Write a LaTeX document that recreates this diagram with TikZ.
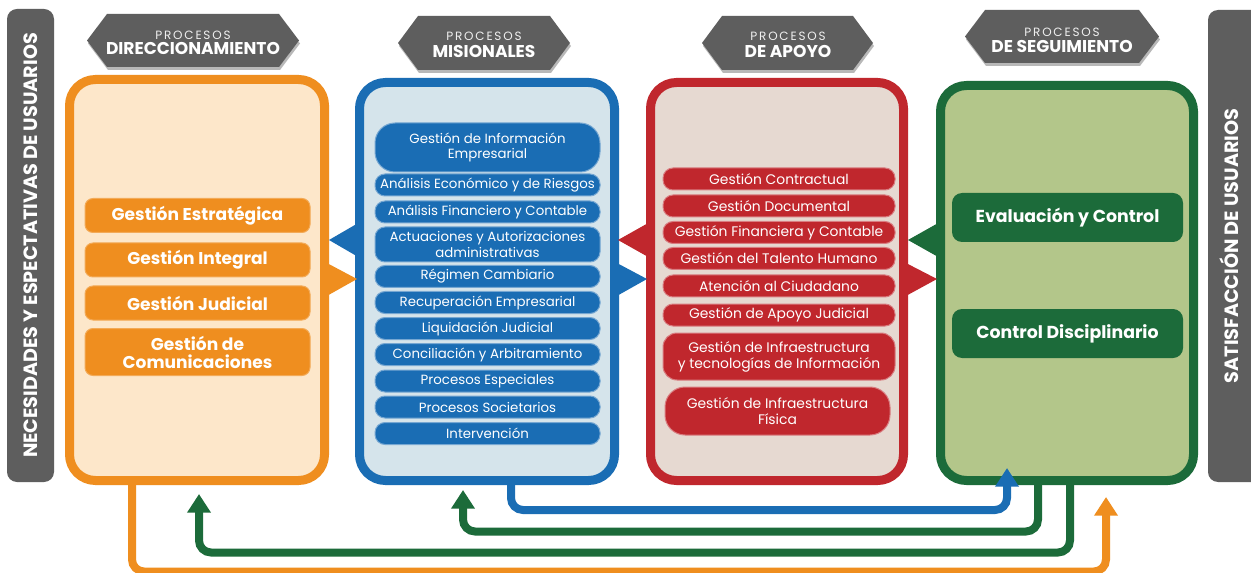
\documentclass[tikz,border=0pt]{standalone}
\usepackage{fontspec}
\setmainfont{Poppins}
\usetikzlibrary{arrows.meta}
\newdimen\px \px=0.75pt
\definecolor{cor}{HTML}{EF8E1F}
\definecolor{corl}{HTML}{FDE7CA}
\definecolor{cbl}{HTML}{1A6DB4}
\definecolor{cbll}{HTML}{D5E4EB}
\definecolor{cre}{HTML}{C0272D}
\definecolor{crel}{HTML}{E6D9D1}
\definecolor{cgr}{HTML}{1C6B3A}
\definecolor{cgrl}{HTML}{B3C68A}
\definecolor{cgray}{HTML}{5E5E5E}
\tikzset{
 colbox/.style={line width=9\px, rounded corners=26\px, inner sep=0pt},
 itm/.style={inner sep=0pt, align=center, text=white, line width=1\px},
 oitm/.style={itm, fill=cor, draw=cor!75!white, rounded corners=8\px, font=\bfseries\fontsize{12.8}{13.5}\selectfont, minimum width=225\px},
 bitm/.style={itm, fill=cbl, draw=cbl!60!white, rounded corners=10\px, font=\fontsize{10}{11.5}\selectfont, minimum width=225\px, minimum height=22\px},
 ritm/.style={itm, fill=cre, draw=cre!60!white, rounded corners=10\px, font=\fontsize{10.4}{12}\selectfont, minimum width=232\px, minimum height=22\px},
 gitm/.style={itm, fill=cgr, rounded corners=10\px, font=\bfseries\fontsize{13}{14}\selectfont, minimum width=231\px, minimum height=49\px},
 hsmall/.style={text=white!88!gray, font=\fontsize{9}{10}\selectfont\addfontfeature{LetterSpace=15}, inner sep=0pt},
 hbig/.style={text=white, font=\bfseries\fontsize{12.8}{14}\selectfont, inner sep=0pt},
 sidebar/.style={fill=cgray, rounded corners=10\px, inner sep=0pt},
 sidetext/.style={rotate=90, text=white, font=\bfseries\fontsize{14.4}{16}\selectfont, inner sep=0pt},
 conn/.style={line width=6pt, rounded corners=12\px, -{Triangle[width=17pt,length=14pt]}}
}
\newcommand\hexhdr[4]{%
 \fill[black,opacity=.28] ({#1+1},{(#3+#4)/2+3}) -- ({#1+21},{#3+3}) -- ({#2-19},{#3+3}) -- ({#2+1},{(#3+#4)/2+3}) -- ({#2-19},{#4+3}) -- ({#1+21},{#4+3}) -- cycle;
 \fill[cgray] (#1,{(#3+#4)/2}) -- ({#1+20},#3) -- ({#2-20},#3) -- (#2,{(#3+#4)/2}) -- ({#2-20},#4) -- ({#1+20},#4) -- cycle;}
\begin{document}
\begin{tikzpicture}[x=0.75pt,y=-0.75pt]
\useasboundingbox[fill=white] (0,0) rectangle (1251,573);

% side bars
\node[sidebar, minimum width=47\px, minimum height=473\px] (lb) at (30.5,245.5) {};
\node[sidetext] (lbt) at (lb) {NECESIDADES Y ESPECTATIVAS DE USUARIOS};
\node[sidebar, minimum width=54\px, minimum height=472\px] (rb) at (1235,246) {};
\node[sidetext] (rbt) at (1229,246) {SATISFACCIÓN DE USUARIOS};

% headers
\hexhdr{87}{299}{14}{67}
\node[hsmall] (h1a) at (193,35) {PROCESOS};
\node[hbig] (h1b) at (193,48.5) {DIRECCIONAMIENTO};
\hexhdr{398}{570}{16}{70}
\node[hsmall] (h2a) at (484,36) {PROCESOS};
\node[hbig] (h2b) at (484,51) {MISIONALES};
\hexhdr{702}{873}{16}{70}
\node[hsmall] (h3a) at (788,36) {PROCESOS};
\node[hbig] (h3b) at (788,51) {DE APOYO};
\hexhdr{965}{1159}{10}{63}
\node[hsmall] (h4a) at (1062,32) {PROCESOS};
\node[hbig] (h4b) at (1062,46.5) {DE SEGUIMIENTO};

% columns
\node[colbox, draw=cor, fill=corl, minimum width=255\px, minimum height=401\px] (colO) at (197,280) {};
\node[colbox, draw=cbl, fill=cbll, minimum width=255\px, minimum height=398\px] (colB) at (487,281.5) {};
\node[colbox, draw=cre, fill=crel, minimum width=253\px, minimum height=398\px] (colR) at (777,281.5) {};
\node[colbox, draw=cgr, fill=cgrl, minimum width=253\px, minimum height=395\px] (colG) at (1067,283) {};

% arrow wedges between columns
\fill[cbl] (360,222) -- (360,258) -- (329,240) -- cycle;
\fill[cor] (325,262) -- (325,297) -- (357,279) -- cycle;
\fill[cre] (650,222) -- (650,258) -- (618,240) -- cycle;
\fill[cbl] (615,262) -- (615,297) -- (647,279) -- cycle;
\fill[cgr] (940,222) -- (940,258) -- (908,240) -- cycle;
\fill[cre] (904,262) -- (904,297) -- (937,279) -- cycle;

% orange items
\node[oitm, minimum height=34\px] (o1) at (197.5,215.5) {Gestión Estratégica};
\node[oitm, minimum height=34\px] (o2) at (197.5,260) {Gestión Integral};
\node[oitm, minimum height=34\px] (o3) at (197.5,303) {Gestión Judicial};
\node[oitm, minimum height=47\px] (o4) at (197.5,352) {Gestión de\\Comunicaciones};

% blue items
\node[bitm, rounded corners=20\px, minimum height=49\px] (b1) at (487.5,147.5) {Gestión de Información\\Empresarial};
\node[bitm] (b2) at (487.5,185) {Análisis Económico y de Riesgos};
\node[bitm] (b3) at (487.5,212) {Análisis Financiero y Contable};
\node[bitm, minimum height=35\px] (b4) at (487.5,244.5) {Actuaciones y Autorizaciones\\administrativas};
\node[bitm] (b5) at (487.5,276.5) {Régimen Cambiario};
\node[bitm] (b6) at (487.5,302.5) {Recuperación Empresarial};
\node[bitm] (b7) at (487.5,328.5) {Liquidación Judicial};
\node[bitm] (b8) at (487.5,354.5) {Conciliación y Arbitramiento};
\node[bitm] (b9) at (487.5,381) {Procesos Especiales};
\node[bitm] (b10) at (487.5,407) {Procesos Societarios};
\node[bitm] (b11) at (487.5,433.5) {Intervención};

% red items
\node[ritm] (r1) at (779,179) {Gestión Contractual};
\node[ritm] (r2) at (779,206) {Gestión Documental};
\node[ritm] (r3) at (779,232.5) {Gestión Financiera y Contable};
\node[ritm] (r4) at (779,258.5) {Gestión del Talento Humano};
\node[ritm] (r5) at (779,286) {Atención al Ciudadano};
\node[ritm] (r6) at (779,315) {Gestión de Apoyo Judicial};
\node[ritm, minimum height=47\px, rounded corners=14\px] (r7) at (779,356.5) {Gestión de Infraestructura\\y tecnologías de Información};
\node[ritm, minimum width=225\px, minimum height=48\px, rounded corners=20\px] (r8) at (777.5,411) {Gestión de Infraestructura\\Física};

% green items
\node[gitm] (g1) at (1067.5,217.5) {Evaluación y Control};
\node[gitm] (g2) at (1067.5,333.5) {Control Disciplinario};

% bottom connectors
\coordinate (oE) at (1106,497);
\coordinate (gE1) at (199,494);
\coordinate (gE2) at (463,490);
\coordinate (bE) at (1007,468);
\draw[conn, cor] ([xshift=-65\px]colO.south) -- ++(0,86.5) -| (oE);
\draw[conn, cgr] ([xshift=3\px]colG.south) -- ++(0,67.5) -| (gE1);
\draw[conn, cgr] ([xshift=-29\px]colG.south) -- ++(0,46.5) -| (gE2);
\draw[conn, cbl] ([xshift=24\px]colB.south) -- ++(0,25) -| (bE);
\end{tikzpicture}
\end{document}
